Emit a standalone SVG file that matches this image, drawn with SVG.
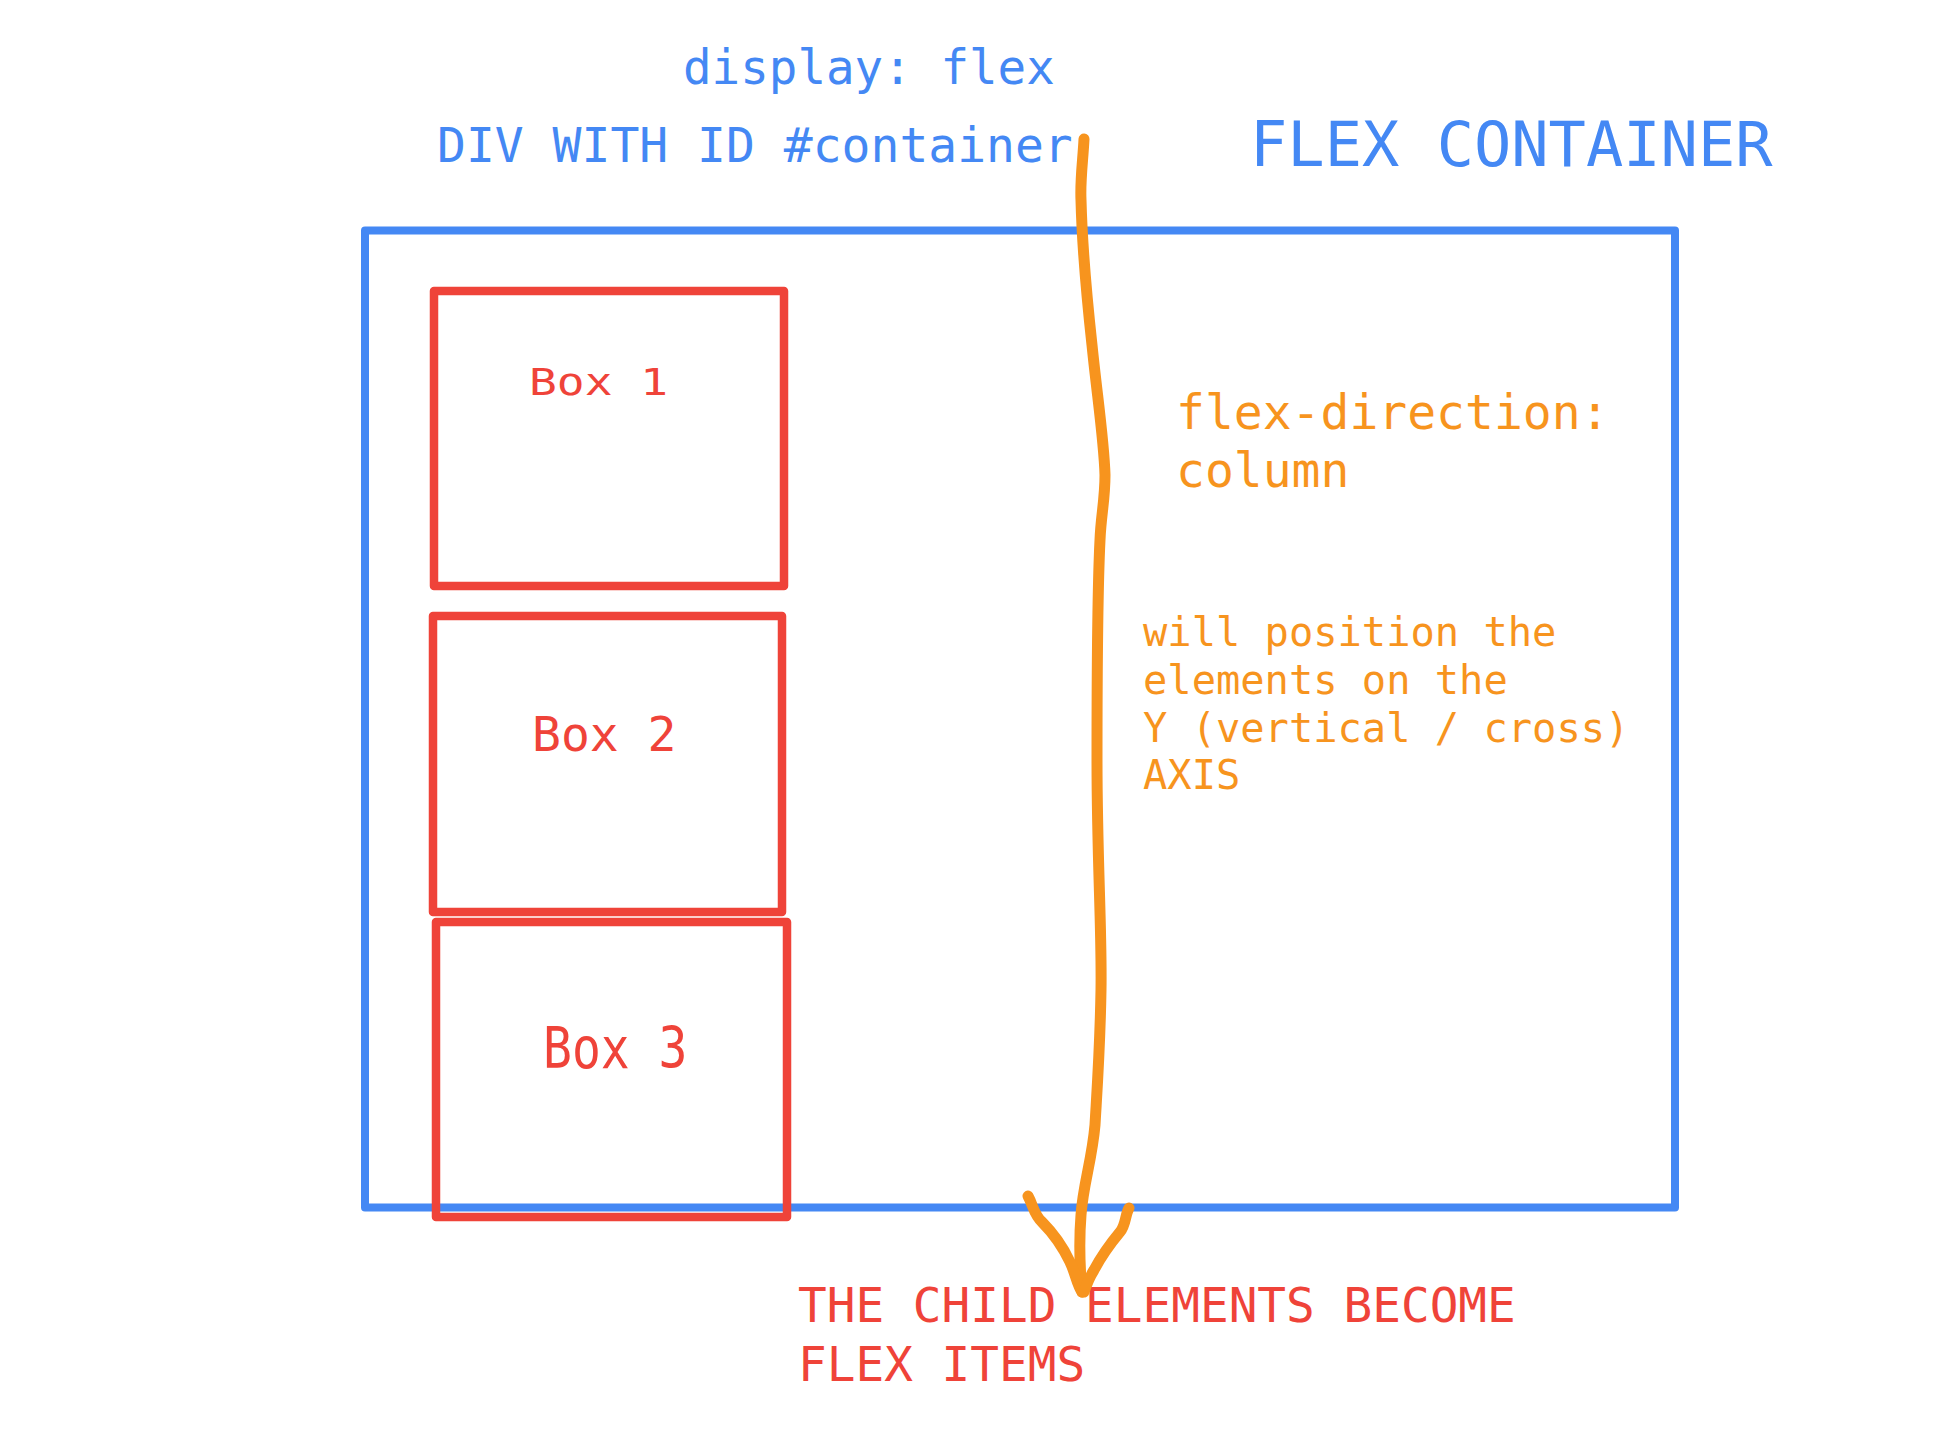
<svg xmlns="http://www.w3.org/2000/svg" width="1933" height="1450" viewBox="0 0 1933 1450">
<style>
.mono{font-family:"DejaVu Sans Mono","Liberation Mono",monospace;}
.blue{fill:#4488f4;}
.red{fill:#ef4339;}
.orange{fill:#f7941e;}
.frame{fill:none;stroke:#4488f4;stroke-width:8;stroke-linejoin:round;}
.box{fill:none;stroke:#ef4339;stroke-width:8.5;stroke-linejoin:round;}
.arrow{fill:none;stroke:#f7941e;stroke-width:11;stroke-linecap:round;stroke-linejoin:round;}
</style>
<rect width="1933" height="1450" fill="#ffffff"/>
<g id="container">
<rect class="frame" x="365" y="230.5" width="1310" height="977"/>
</g>
<g id="label-display">
<text class="mono blue" x="683" y="84" font-size="47.5">display: flex</text>
</g>
<g id="label-div">
<text class="mono blue" x="437" y="161.5" font-size="48">DIV WITH ID #container</text>
</g>
<g id="label-flex-container">
<text class="mono blue" x="1250" y="166" font-size="62">FLEX CONTAINER</text>
</g>
<g id="box1">
<rect class="box" x="434" y="291" width="350" height="295"/>
<text class="mono red" transform="translate(529,394.5) scale(1.25,1)" x="0" y="0" font-size="37">Box 1</text>
</g>
<g id="box2">
<rect class="box" x="433" y="616" width="349" height="296"/>
<text class="mono red" x="532" y="751" font-size="48">Box 2</text>
</g>
<g id="box3">
<rect class="box" x="436" y="922" width="351" height="295"/>
<text class="mono red" transform="translate(543,1068) scale(1,1.2)" x="0" y="0" font-size="48">Box 3</text>
</g>
<g id="label-direction">
<text class="mono orange" font-size="48"><tspan x="1176" y="429">flex-direction:</tspan><tspan x="1176" y="487">column</tspan></text>
</g>
<g id="label-axis">
<text class="mono orange" font-size="40.4"><tspan x="1143" y="646">will position the</tspan><tspan x="1143" y="694">elements on the</tspan><tspan x="1143" y="742">Y (vertical / cross)</tspan><tspan x="1143" y="789">AXIS</tspan></text>
</g>
<g id="label-children">
<text class="mono red" font-size="47.7"><tspan x="798" y="1322">THE CHILD ELEMENTS BECOME</tspan><tspan x="798" y="1381">FLEX ITEMS</tspan></text>
</g>
<g id="connectors">
<path class="arrow" d="M1084,139 C1083,160 1080,180 1081,200 C1082,240 1086,290 1092,345 C1097,395 1104,440 1105,475 C1105,500 1101,515 1100,540 C1097,600 1097,680 1097,760 C1097,860 1102,930 1101,990 C1100,1050 1097,1090 1095,1125 C1092,1160 1083,1185 1081,1215 C1079,1240 1080,1270 1082,1292"/>
<path class="arrow" d="M1028,1196 C1033,1205 1034,1215 1042,1222 C1052,1232 1062,1245 1070,1262 C1075,1272 1077,1285 1082,1292"/>
<path class="arrow" d="M1129,1208 C1125,1215 1126,1225 1120,1232 C1110,1244 1102,1255 1094,1270 C1089,1278 1086,1286 1084,1292"/>
</g>
</svg>
